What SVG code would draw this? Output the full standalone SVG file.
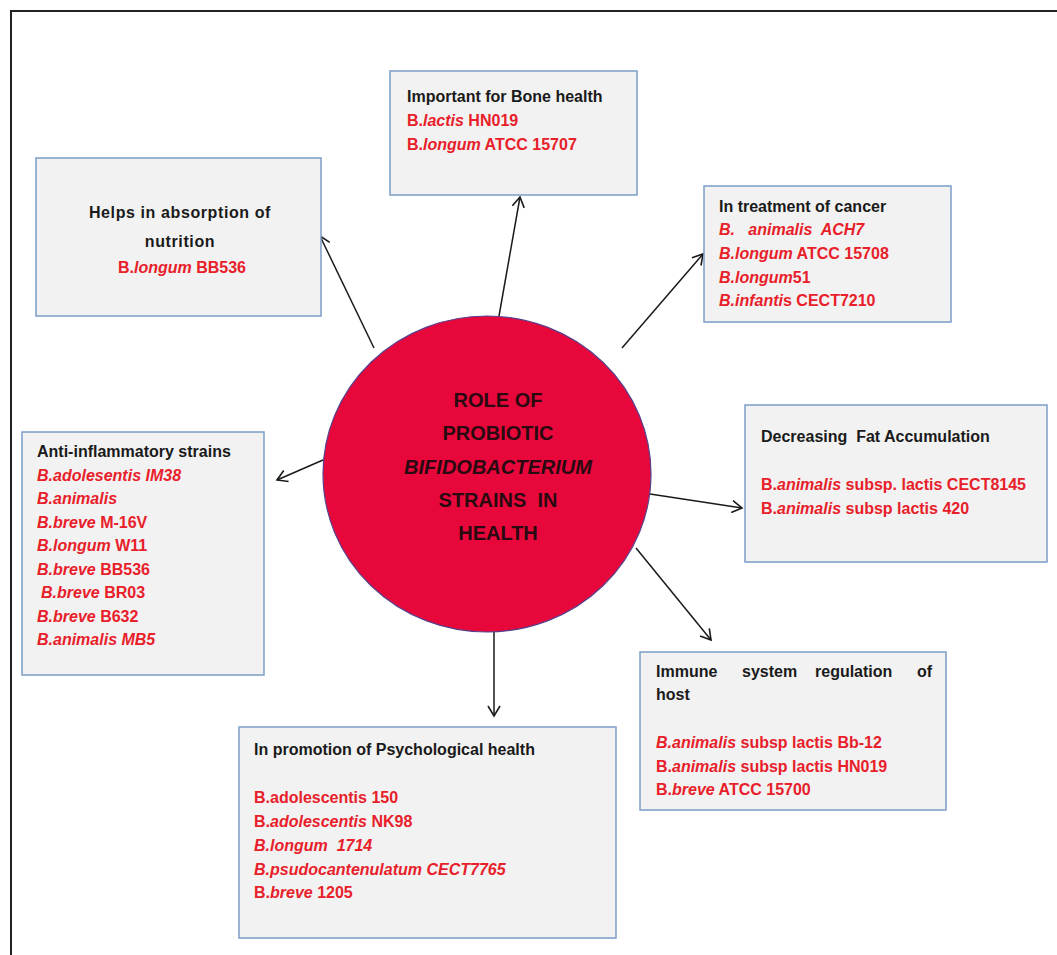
<svg xmlns="http://www.w3.org/2000/svg" width="1057" height="955" viewBox="0 0 1057 955">
<defs>
<style>
.box{fill:#f2f2f2;stroke:#7b9dc7;stroke-width:1.5}
.t{font-family:"Liberation Sans",Arial,sans-serif;font-weight:bold;font-size:16px;fill:#1a1a1a}
.r{font-family:"Liberation Sans",Arial,sans-serif;font-weight:bold;font-size:16px;fill:#e8202a}
.i{font-style:italic}
.c{font-family:"Liberation Sans",Arial,sans-serif;font-weight:bold;font-size:20px;fill:#2a0a10;text-anchor:middle}
.conn{stroke:#1a1a1a;stroke-width:1.5;fill:none}
</style>
<marker id="ah" markerWidth="14" markerHeight="14" refX="12" refY="7" orient="auto" markerUnits="userSpaceOnUse">
<path d="M2,1 L12,7 L2,13" fill="none" stroke="#1a1a1a" stroke-width="1.6"/>
</marker>
</defs>
<rect x="0" y="0" width="1057" height="955" fill="#ffffff"/>
<rect x="11" y="11" width="1060" height="960" fill="none" stroke="#222" stroke-width="2"/>

<g id="connectors">
<line class="conn" x1="499" y1="316" x2="520" y2="197" marker-end="url(#ah)"/>
<line class="conn" x1="374" y1="348" x2="320" y2="236" marker-end="url(#ah)"/>
<line class="conn" x1="622" y1="348" x2="703" y2="254" marker-end="url(#ah)"/>
<line class="conn" x1="323" y1="460" x2="277" y2="480" marker-end="url(#ah)"/>
<line class="conn" x1="650" y1="494" x2="742" y2="508" marker-end="url(#ah)"/>
<line class="conn" x1="636" y1="548" x2="711" y2="640" marker-end="url(#ah)"/>
<line class="conn" x1="494" y1="632" x2="494" y2="716" marker-end="url(#ah)"/>
</g>

<g id="center">
<ellipse cx="487" cy="474" rx="164" ry="158" fill="#e8073b" stroke="#5a3f8a" stroke-width="1.2"/>
<text class="c" x="498" y="407">ROLE OF</text>
<text class="c" x="498" y="440">PROBIOTIC</text>
<text class="c" x="498" y="474" font-style="italic">BIFIDOBACTERIUM</text>
<text class="c" x="498" y="507" xml:space="preserve">STRAINS  IN</text>
<text class="c" x="498" y="540">HEALTH</text>
</g>

<g id="bone">
<rect class="box" x="390" y="71" width="247" height="124"/>
<text class="t" x="407" y="102">Important for Bone health</text>
<text class="r" x="407" y="126">B.<tspan class="i">lactis</tspan> HN019</text>
<text class="r" x="407" y="150">B.<tspan class="i">longum</tspan> ATCC 15707</text>
</g>

<g id="nutrition">
<rect class="box" x="36" y="158" width="285" height="158"/>
<text class="t" x="180" y="218" text-anchor="middle" font-size="19" letter-spacing="0.6">Helps in absorption of</text>
<text class="t" x="180" y="247" text-anchor="middle" font-size="19" letter-spacing="0.6">nutrition</text>
<text class="r" x="182" y="273" text-anchor="middle">B.<tspan class="i">longum</tspan> BB536</text>
</g>

<g id="cancer">
<rect class="box" x="704" y="186" width="247" height="136"/>
<text class="t" x="719" y="212">In treatment of cancer</text>
<text class="r i" x="719" y="235" xml:space="preserve">B.   animalis  ACH7</text>
<text class="r" x="719" y="259"><tspan class="i">B.longum</tspan> ATCC 15708</text>
<text class="r" x="719" y="283"><tspan class="i">B.longum</tspan>51</text>
<text class="r" x="719" y="306"><tspan class="i">B.infanti</tspan>s CECT7210</text>
</g>

<g id="fat">
<rect class="box" x="745" y="405" width="302" height="157"/>
<text class="t" x="761" y="442" xml:space="preserve">Decreasing  Fat Accumulation</text>
<text class="r" x="761" y="490">B.<tspan class="i">animalis</tspan> subsp. lactis CECT8145</text>
<text class="r" x="761" y="514">B.<tspan class="i">animalis</tspan> subsp lactis 420</text>
</g>

<g id="antiinflammatory">
<rect class="box" x="22" y="432" width="242" height="243"/>
<text class="t" x="37" y="457">Anti-inflammatory strains</text>
<text class="r i" x="37" y="481">B.adolesentis IM38</text>
<text class="r i" x="37" y="504">B.animalis</text>
<text class="r" x="37" y="528"><tspan class="i">B.breve</tspan> M-16V</text>
<text class="r" x="37" y="551"><tspan class="i">B.longum</tspan> W11</text>
<text class="r" x="37" y="575"><tspan class="i">B.breve</tspan> BB536</text>
<text class="r" x="41" y="598"><tspan class="i">B.breve</tspan> BR03</text>
<text class="r" x="37" y="622"><tspan class="i">B.breve</tspan> B632</text>
<text class="r i" x="37" y="645">B.animalis MB5</text>
</g>

<g id="immune">
<rect class="box" x="640" y="652" width="306" height="158"/>
<text class="t" y="677"><tspan x="656">Immune</tspan><tspan x="742">system</tspan><tspan x="815">regulation</tspan><tspan x="917">of</tspan></text>
<text class="t" x="656" y="700">host</text>
<text class="r" x="656" y="748"><tspan class="i">B.animalis</tspan> subsp lactis Bb-12</text>
<text class="r" x="656" y="772">B.<tspan class="i">animalis</tspan> subsp lactis HN019</text>
<text class="r" x="656" y="795">B.<tspan class="i">breve</tspan> ATCC 15700</text>
</g>

<g id="psychological">
<rect class="box" x="239" y="727" width="377" height="211"/>
<text class="t" x="254" y="755">In promotion of Psychological health</text>
<text class="r" x="254" y="803">B.adolescentis 150</text>
<text class="r" x="254" y="827">B.<tspan class="i">adolescentis</tspan> NK98</text>
<text class="r i" x="254" y="851" xml:space="preserve">B.longum  1714</text>
<text class="r i" x="254" y="875">B.psudocantenulatum CECT7765</text>
<text class="r" x="254" y="898">B.<tspan class="i">breve</tspan> 1205</text>
</g>
</svg>
